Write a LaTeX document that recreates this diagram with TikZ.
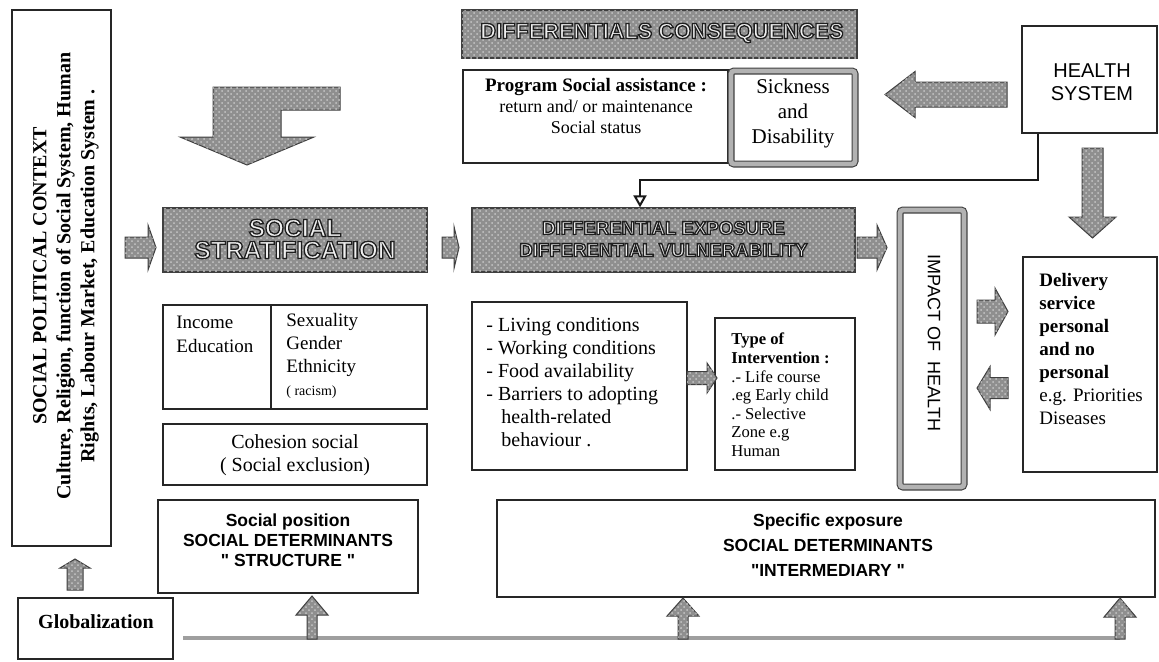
\documentclass[tikz,border=0pt]{standalone}
\usepackage{fontspec}
\setmainfont{Liberation Serif}
\setsansfont{Liberation Sans}[Ligatures=TeXOff]
\usetikzlibrary{arrows.meta,patterns}

% font size helper
\newcommand\fsz[2]{\fontsize{#1}{#2}\selectfont}
% light letters with a dark outline (fill and stroke text rendering), for the grey title bars
\newcommand\emb[1]{\textcolor{gray!12}{\special{pdf:literal direct 2 Tr 0.65 w 0.12 0.12 0.12 RG}#1\special{pdf:literal direct 0 Tr}}}

% horizontal block arrow: tail x, head base x, tip x, centre y, half shaft, half head
\newcommand\harrow[6]{%
  \path[blk] (#1,#4-#5) -- (#2,#4-#5) -- (#2,#4-#6) -- (#3,#4) -- (#2,#4+#6)
    -- (#2,#4+#5) -- (#1,#4+#5) -- cycle;}
% vertical block arrow: centre x, tail y, head base y, tip y, half shaft, half head
\newcommand\varrow[6]{%
  \path[blk] (#1-#5,#2) -- (#1-#5,#3) -- (#1-#6,#3) -- (#1,#4) -- (#1+#6,#3)
    -- (#1+#5,#3) -- (#1+#5,#2) -- cycle;}

\begin{document}
\begin{tikzpicture}[x=0.5pt,y=-0.5pt,
  box/.style={draw=black!85, line width=0.6pt, fill=white, inner sep=0pt},
  dblbox/.style={draw=black!75, line width=0.55pt, double=gray!60,
    double distance=2.4pt, fill=white, inner sep=0pt, rounded corners=1.5pt},
  gbox/.style={draw=black!75, line width=0.6pt, fill=gray!88, inner sep=0pt,
    postaction={pattern=crosshatch dots, pattern color=gray!45}},
  blk/.style={draw=black!75, line width=0.5pt, fill=gray!88,
    postaction={pattern=crosshatch dots, pattern color=gray!45}},
  txt/.style={inner sep=0pt, align=center},
  ltxt/.style={inner sep=0pt, align=left, anchor=west},
  conn/.style={line width=1pt, draw=black!90},
  gline/.style={line width=2.4pt, draw=gray!75}]

\useasboundingbox (0,0) rectangle (1159,661);
\fill[white] (0,0) rectangle (1159,661);

% ---------- left column ----------
\node[box, minimum width=49.5pt, minimum height=268pt] (ctx) at (61.5,278) {};
\node[txt, rotate=90, font=\bfseries\fsz{10}{12}] (ctxt) at (66,276)
  {SOCIAL POLITICAL CONTEXT\\Culture, Religion, function of Social System, Human\\Rights, Labour Market, Education System .};

\node[box, line width=0.8pt, minimum width=77.5pt, minimum height=30.5pt] (glob) at (95.5,628.5) {};
\node[txt, font=\bfseries\fsz{10}{12}] (globt) at (96,622) {Globalization};

% ---------- structural determinants ----------
\node[gbox, minimum width=132pt, minimum height=32pt] (ss) at (295,240) {};
\node[txt, font=\sffamily\bfseries\fsz{12.3}{11}] (sst) at (295,239) {\emb{SOCIAL}\\\emb{STRATIFICATION}};

\node[box, minimum width=132pt, minimum height=52pt] (inc) at (295,357) {};
\coordinate (divx) at (271,0);
\draw[line width=0.6pt, black!85] (inc.north -| divx) -- (inc.south -| divx);
\node[ltxt, font=\fsz{9.5}{12}] (inct) at (176,334) {Income\\Education};
\node[ltxt, font=\fsz{9.5}{11.5}] (sext) at (286,356) {Sexuality\\Gender\\Ethnicity\\{\fsz{7}{9}( racism)}};

\node[box, minimum width=132pt, minimum height=30.5pt] (coh) at (295,454.5) {};
\node[txt, font=\fsz{10}{11.5}] (coht) at (295,455) {Cohesion social\\( Social exclusion)};

\node[box, minimum width=130pt, minimum height=46.5pt] (sp) at (288,546.5) {};
\node[txt, font=\sffamily\bfseries\fsz{8.75}{10}] (spt) at (288,540) {Social position\\SOCIAL DETERMINANTS\\" STRUCTURE "};

% ---------- consequences ----------
\node[gbox, minimum width=197.5pt, minimum height=24pt] (dc) at (659.5,34) {};
\node[txt, font=\sffamily\bfseries\fsz{10.9}{12}] (dct) at (662,33) {\emb{DIFFERENTIALS CONSEQUENCES}};

\node[box, minimum width=132.5pt, minimum height=46.5pt] (prog) at (595.5,116.5) {};
\node[txt, font=\fsz{9}{10.5}] (progt) at (596,106)
  {\textbf{\fsz{9.5}{10.5}Program Social assistance~:}\\return and/ or maintenance\\Social status};

\node[dblbox, minimum width=62pt, minimum height=46.5pt] (sick) at (793,117.5) {};
\node[txt, font=\fsz{10.5}{12.5}] (sickt) at (793,113) {Sickness\\and\\Disability};

\node[box, line width=0.8pt, minimum width=67.5pt, minimum height=53.5pt] (hs) at (1089.5,79.5) {};
\node[txt, font=\sffamily\fsz{10}{11.5}] (hst) at (1092,82) {HEALTH\\SYSTEM};

% ---------- intermediary determinants ----------
\node[gbox, minimum width=191.5pt, minimum height=32pt] (de) at (663.5,240) {};
\node[txt, font=\sffamily\bfseries\fsz{9.3}{11}] (det) at (663.5,239) {\emb{DIFFERENTIAL EXPOSURE}\\\emb{DIFFERENTIAL VULNERABILITY}};

\node[box, minimum width=107.5pt, minimum height=84pt] (liv) at (579.5,386) {};
\node[ltxt, font=\fsz{10}{11.5}] (livt) at (486,382)
  {- Living conditions\\- Working conditions\\- Food availability\\- Barriers to adopting\\\hspace*{7.5pt}health-related\\\hspace*{7.5pt}behaviour .};

\node[box, minimum width=70pt, minimum height=76pt] (typ) at (785,394) {};
\node[ltxt, font=\fsz{8.3}{9.3}] (typt) at (731,395)
  {\textbf{Type of}\\\textbf{Intervention :}\\.- Life course\\.eg Early child\\.- Selective\\Zone e.g\\Human};

\node[dblbox, minimum width=32pt, minimum height=138.5pt] (imp) at (932,348.5) {};
\node[txt, rotate=-90, font=\sffamily\fsz{9}{10}] (impt) at (934,343) {IMPACT OF\ \ HEALTH};

\node[box, minimum width=67pt, minimum height=107.5pt] (del) at (1090,364.5) {};
\node[ltxt, font=\fsz{9.5}{11.5}] (delt) at (1039,349)
  {\textbf{Delivery}\\\textbf{service}\\\textbf{personal}\\\textbf{and no}\\\textbf{personal}\\e.g. Priorities\\Diseases};

\node[box, minimum width=329pt, minimum height=48.5pt] (se) at (826,548.5) {};
\node[txt, font=\sffamily\bfseries\fsz{8.75}{12.5}] (set) at (828,545) {Specific exposure\\SOCIAL DETERMINANTS\\"INTERMEDIARY "};

% ---------- connector from the health system ----------
\coordinate (k1) at (1038,180);
\coordinate (k2) at (640,180);
\draw[conn, -{Triangle[open,length=6pt,width=6.5pt]}] (hs.south -| k1) -- (k1) -- (k2) -- (k2 |- de.north);

% ---------- block arrows ----------
\path[blk] (213,87) -- (340,87) -- (340,110) -- (281,110) -- (281,137) -- (314,137)
  -- (247,165) -- (180,137) -- (213,137) -- cycle;
\harrow{125}{148}{156}{247.5}{10.5}{22.5}
\harrow{442}{454}{459}{247.5}{10.5}{21}
\harrow{857}{877}{887}{247.5}{10.5}{22.5}
\harrow{1007}{915}{885}{94.5}{12.5}{23}
\varrow{1092.5}{148}{217}{238}{10.5}{23.5}
\harrow{977}{995}{1008}{311.5}{11.5}{23.5}
\harrow{1008}{990}{977}{388}{10.5}{21.5}
\harrow{687}{707}{717}{378}{6.5}{15}
\varrow{75}{590}{568}{559}{8}{15}

% ---------- globalization feed line ----------
\coordinate (g0) at (183,638);
\coordinate (g3) at (1120,638);
\draw[gline] (g0) -- (g3);
\varrow{312}{639}{615}{596}{5}{16}
\varrow{683}{639}{616}{598}{5}{16}
\varrow{1120}{639}{617}{598}{5}{16}

\end{tikzpicture}
\end{document}
